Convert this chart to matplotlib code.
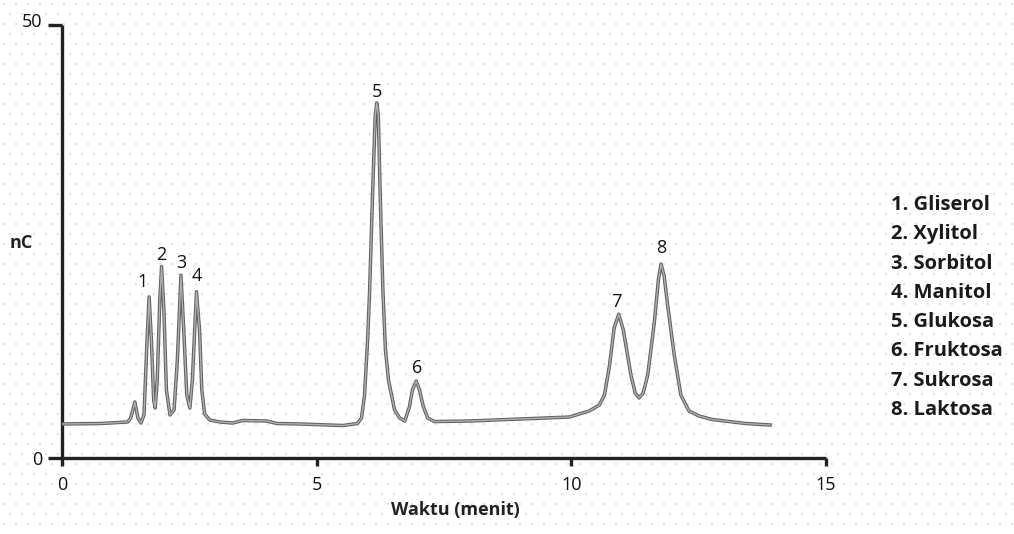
import numpy as np
import matplotlib
matplotlib.use("Agg")
import matplotlib.pyplot as plt
import matplotlib.transforms as mtransforms

plt.rcParams["font.family"] = ["Open Sans", "DejaVu Sans"]

# ------------------------------------------------------------------
# data (time in min, signal in nC)
# ------------------------------------------------------------------
time_min = [
    0.00, 0.75, 1.29, 1.35, 1.43, 1.49, 1.55, 1.61, 1.67, 1.71, 1.755,
    1.80, 1.83, 1.87, 1.92, 1.955, 2.00, 2.05, 2.12, 2.20, 2.265, 2.335,
    2.39, 2.45, 2.51, 2.56, 2.64, 2.70, 2.745, 2.80, 2.90, 3.10, 3.35,
    3.55, 4.02, 4.22, 4.67, 5.51, 5.80, 5.88, 5.94, 6.00, 6.04, 6.10,
    6.15, 6.18, 6.21, 6.245, 6.30, 6.35, 6.41, 6.53, 6.63, 6.73, 6.82,
    6.88, 6.955, 7.02, 7.09, 7.18, 7.31, 8.00, 8.98, 9.96, 10.35, 10.55,
    10.65, 10.75, 10.84, 10.93, 11.02, 11.17, 11.255, 11.33, 11.41, 11.50,
    11.63, 11.71, 11.76, 11.82, 11.89, 12.02, 12.15, 12.31, 12.51, 12.76,
    13.43, 13.90,
]
signal_nc = [
    3.93, 3.98, 4.16, 4.62, 6.47, 4.62, 4.04, 4.97, 13.6, 18.6, 13.6,
    6.70, 5.77, 9.00, 18.2, 22.1, 17.1, 7.85, 4.97, 5.54, 11.3, 21.1,
    14.8, 7.27, 5.77, 9.00, 19.2, 14.8, 7.85, 5.08, 4.39, 4.16, 4.04,
    4.33, 4.27, 3.98, 3.93, 3.75, 3.98, 4.62, 7.27, 13.6, 19.4, 30.9,
    39.6, 41.0, 39.6, 30.9, 19.4, 12.5, 9.00, 5.54, 4.62, 4.27, 5.89,
    7.85, 8.89, 7.85, 6.00, 4.62, 4.21, 4.27, 4.50, 4.73, 5.43, 6.12,
    7.27, 10.7, 15.0, 16.6, 14.8, 9.58, 7.50, 6.93, 7.50, 9.58,
    15.7, 20.6, 22.4, 21.1, 17.7, 11.9, 7.27, 5.43, 4.85, 4.45,
    3.98, 3.81,
]

peak_labels = ["1", "2", "3", "4", "5", "6", "7", "8"]
peak_times = [1.71, 1.955, 2.335, 2.64, 6.18, 6.955, 10.93, 11.76]
# label offsets in pixels (dx, dy) relative to the peak top
peak_offsets = [(-7, 15), (0, 12), (0, 12), (0, 16), (0, 11), (1, 13), (-2, 12), (0, 16)]

compounds = ["1. Gliserol", "2. Xylitol", "3. Sorbitol", "4. Manitol",
             "5. Glukosa", "6. Fruktosa", "7. Sukrosa", "8. Laktosa"]

# ------------------------------------------------------------------
# figure
# ------------------------------------------------------------------
W, H = 1014, 534
fig = plt.figure(figsize=(W / 100, H / 100), dpi=100)

# faint dotted paper texture behind everything
bg = fig.add_axes([0, 0, 1, 1], zorder=-5)
bg.set_xlim(0, W); bg.set_ylim(H, 0); bg.axis("off")
gx, gy = np.meshgrid(np.arange(4, W, 12), np.arange(4, H, 10))
gx = gx + (np.arange(gx.shape[0])[:, None] % 2) * 6
bg.scatter(gx.ravel(), gy.ravel(), s=1.2, c="#e2e2e2", marker="s", linewidths=0)

ax = fig.add_axes([62 / W, 1 - 458 / H, (826 - 62) / W, (458 - 25) / H])
ax.patch.set_alpha(0)

t = np.array(time_min)
s = np.array(signal_nc)
ax.plot(t, s, color="#606060", lw=2.5, solid_joinstyle="round", zorder=3)
ax.plot(t, s, color="#b0b0b0", lw=1.0, solid_joinstyle="round", zorder=4)

ax.set_xlim(0, 15)
ax.set_ylim(0, 50)

for sp in ["top", "right"]:
    ax.spines[sp].set_visible(False)
for sp in ["left", "bottom"]:
    ax.spines[sp].set_linewidth(2.4)
    ax.spines[sp].set_color("#222222")
    ax.spines[sp].set_capstyle("butt")

ax.set_xticks([0, 5, 10, 15])
ax.set_xticklabels(["0", "5", "10", "15"])
ax.set_yticks([0, 50])
ax.set_yticklabels(["0", "50"])
ax.tick_params(axis="x", direction="out", length=6, width=2.4, color="#222222",
               labelsize=13, pad=7, labelcolor="#111111")
ax.tick_params(axis="y", direction="out", length=10, width=2.4, color="#222222",
               labelsize=13, pad=4, labelcolor="#111111")
# the "50" label sits a little above its tick in the original
top_lab = ax.get_yticklabels()[1]
top_lab.set_transform(top_lab.get_transform() +
                      mtransforms.ScaledTranslation(0, 5 / 100, fig.dpi_scale_trans))

ax.set_xlabel("Waktu (menit)", fontsize=13, fontweight="bold",
              color="#222222", labelpad=4)
ax.xaxis.set_label_coords((455 - 62) / (826 - 62), -0.099)
fig.text(10 / W, 1 - 243 / H, "nC", fontsize=13, fontweight="bold",
         color="#222222", va="center", ha="left")

for lab, pt, (dx, dy) in zip(peak_labels, peak_times, peak_offsets):
    top = np.interp(pt, t, s)
    ax.annotate(lab, xy=(pt, top), xytext=(dx * 0.72, dy * 0.72),
                textcoords="offset points", ha="center", va="center",
                fontsize=13, fontweight="medium", color="#111111")

for i, name in enumerate(compounds):
    fig.text(891 / W, 1 - (205 + i * 29.3) / H, name, fontsize=14.5,
             fontweight="bold", color="#1a1a1a", va="center", ha="left")

fig.savefig("out.png", dpi=100)
